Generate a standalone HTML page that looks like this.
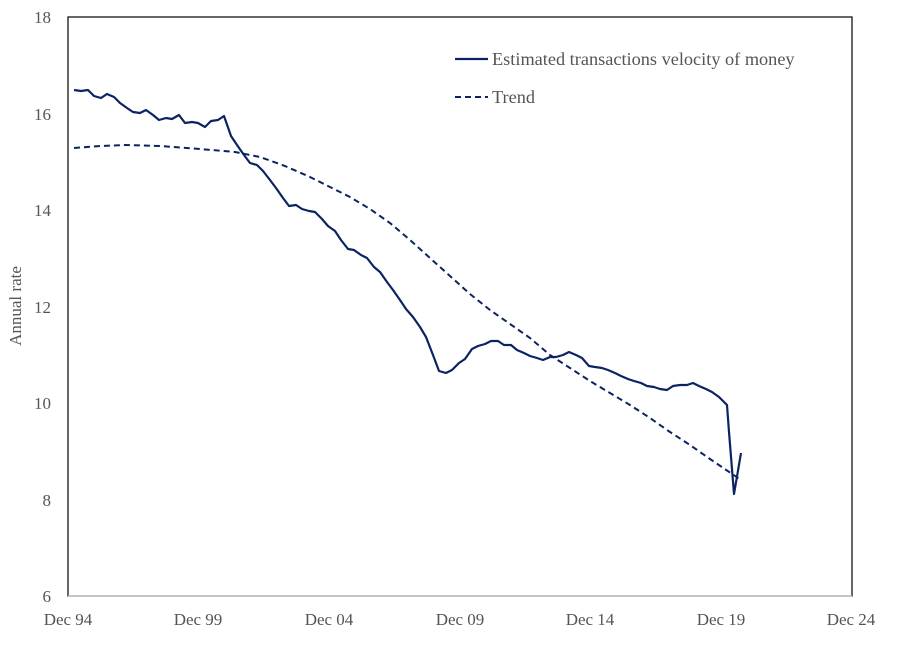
<!DOCTYPE html>
<html><head><meta charset="utf-8"><style>
body{margin:0;background:#fff;}
svg{display:block;font-family:"Liberation Serif",serif;}
</style></head><body>
<svg width="906" height="659" viewBox="0 0 906 659">
<rect x="68" y="17" width="784" height="579" fill="none" stroke="#000" stroke-width="1.2"/>
<line x1="68" y1="596" x2="852" y2="596" stroke="#c0c0c8" stroke-width="1.2"/>
<g font-size="17" fill="#555" text-anchor="end">
<text x="51" y="23">18</text><text x="51" y="120">16</text><text x="51" y="216">14</text>
<text x="51" y="313">12</text><text x="51" y="409">10</text><text x="51" y="506">8</text><text x="51" y="602">6</text>
</g>
<g font-size="17" fill="#555" text-anchor="middle">
<text x="68" y="625">Dec 94</text><text x="198" y="625">Dec 99</text><text x="329" y="625">Dec 04</text>
<text x="460" y="625">Dec 09</text><text x="590" y="625">Dec 14</text><text x="721" y="625">Dec 19</text><text x="851" y="625">Dec 24</text>
</g>
<text transform="translate(21,306) rotate(-90)" font-size="17" fill="#555" text-anchor="middle">Annual rate</text>
<polyline fill="none" stroke="#0b2461" stroke-width="2.2" stroke-linejoin="round" points="74,90 81,91 88,90 94,96 101,98 107,94 114,97 120,103 127,108 133,112 140,113 146,110 153,115 159,120 166,118 172,119 179,115 185,123 192,122 198,123 205,127 211,121 218,120 224,116 231,136 237,145 244,155 250,163 257,165 263,171 270,180 276,188 283,198 289,206 296,205 302,209 309,211 315,212 322,219 328,226 335,231 341,240 348,249 354,250 361,255 367,258 374,267 380,272 387,282 393,290 400,300 406,309 413,317 420,327 426,337 433,355 439,371 446,373 452,370 459,363 465,359 472,349 478,346 485,344 491,341 498,341 504,345 511,345 517,350 524,353 530,356 537,358 543,360 550,357 556,357 563,355 569,352 576,355 582,358 589,366 595,367 602,368 608,370 615,373 621,376 628,379 634,381 641,383 647,386 654,387 660,389 667,390 673,386 680,385 687,385 693,383 699,386 706,389 712,392 719,397 722,400 727,405 729,432 734,494 741,453"/>
<polyline fill="none" stroke="#0b2461" stroke-width="2" stroke-dasharray="6,4" points="74,148 100,146 125,145 160,146 200,149 235,152 260,157 285,166 310,177 330,187 350,197 370,209 390,223 410,240 430,258 450,276 470,294 490,310 510,324 530,338 550,355 570,368 590,381 610,393 630,405 650,418 670,432 690,445 710,459 741,480"/>
<line x1="455" y1="59" x2="488" y2="59" stroke="#0b2461" stroke-width="2.2"/>
<text x="492" y="65" font-size="18.3" fill="#555">Estimated transactions velocity of money</text>
<line x1="455" y1="97" x2="488" y2="97" stroke="#0b2461" stroke-width="2" stroke-dasharray="6,4"/>
<text x="492" y="103" font-size="18.3" fill="#555">Trend</text>
</svg>
</body></html>
